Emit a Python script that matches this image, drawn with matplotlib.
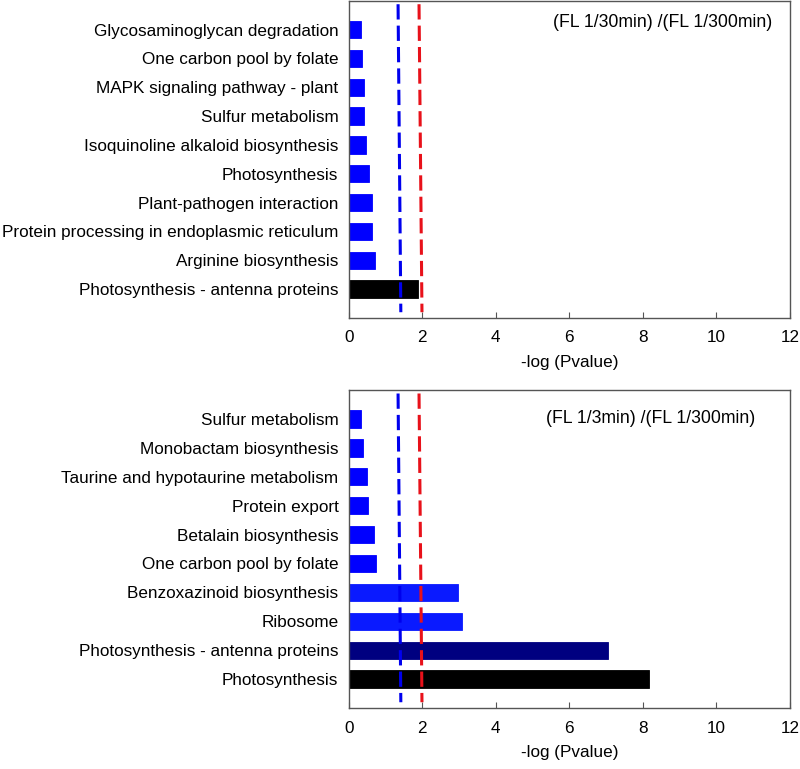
import numpy as np
import matplotlib.pyplot as plt

plt.rcParams['font.family'] = ['Liberation Sans', 'DejaVu Sans']

# top panel: (FL 1/30min) / (FL 1/300min)
top_terms = ['Glycosaminoglycan degradation', 'One carbon pool by folate',
             'MAPK signaling pathway - plant', 'Sulfur metabolism',
             'Isoquinoline alkaloid biosynthesis', 'Photosynthesis',
             'Plant-pathogen interaction', 'Protein processing in endoplasmic reticulum',
             'Arginine biosynthesis', 'Photosynthesis - antenna proteins']
top_vals = [0.34, 0.37, 0.42, 0.42, 0.46, 0.55, 0.64, 0.64, 0.72, 1.87]
top_cols = ['#0000ff'] * 9 + ['#000000']

# bottom panel: (FL 1/3min) / (FL 1/300min)
bot_terms = ['Sulfur metabolism', 'Monobactam biosynthesis',
             'Taurine and hypotaurine metabolism', 'Protein export',
             'Betalain biosynthesis', 'One carbon pool by folate',
             'Benzoxazinoid biosynthesis', 'Ribosome',
             'Photosynthesis - antenna proteins', 'Photosynthesis']
bot_vals = [0.34, 0.38, 0.50, 0.52, 0.69, 0.73, 2.98, 3.07, 7.06, 8.17]
bot_cols = ['#0000ff'] * 6 + ['#0a1aff', '#0a1aff', '#000080', '#000000']

# threshold lines (slightly slanted in the original): x at top, x at bottom
blue_x = [1.34, 1.415]
red_x = [1.91, 1.99]
line_y = [0.12, 10.8]

xticks = [0, 2, 4, 6, 8, 10, 12]

fig = plt.figure(figsize=(8, 7.69), dpi=100)
ax1 = fig.add_axes([0.436, 0.5865, 0.5515, 0.4125])
ax2 = fig.add_axes([0.436, 0.0793, 0.5515, 0.4135])

fs = 12.3


def draw_panel(ax, terms, vals, cols, title, tx, ty):
    ypos = np.arange(1, len(terms) + 1)
    ax.barh(ypos, vals, height=0.6, color=cols, edgecolor=cols, linewidth=0.6)
    ax.plot(blue_x, line_y, color='#0000ee', lw=2.2, dashes=(5, 2))
    ax.plot(red_x, line_y, color='#e8111a', lw=2.2, dashes=(5, 2))
    ax.set_xlim(0, 12)
    ax.set_ylim(11, 0)
    ax.set_yticks(ypos)
    ax.set_yticklabels(terms, fontsize=fs)
    ax.set_xticks(xticks)
    ax.tick_params(axis='x', direction='in', length=4, labelsize=fs, pad=9,
                   color='#555555')
    ax.tick_params(axis='y', length=0, pad=7.5)
    for s in ax.spines.values():
        s.set_color('#555555')
        s.set_linewidth(1)
    ax.set_xlabel('-log (Pvalue)', fontsize=fs, labelpad=7)
    ax.text(tx, ty, title, transform=ax.transAxes, ha='right', va='center',
            fontsize=12.7)


draw_panel(ax1, top_terms, top_vals, top_cols, '(FL 1/30min) /(FL 1/300min)', 0.959, 0.931)
draw_panel(ax2, bot_terms, bot_vals, bot_cols, '(FL 1/3min) /(FL 1/300min)', 0.921, 0.912)

fig.savefig('out.png', dpi=100)
